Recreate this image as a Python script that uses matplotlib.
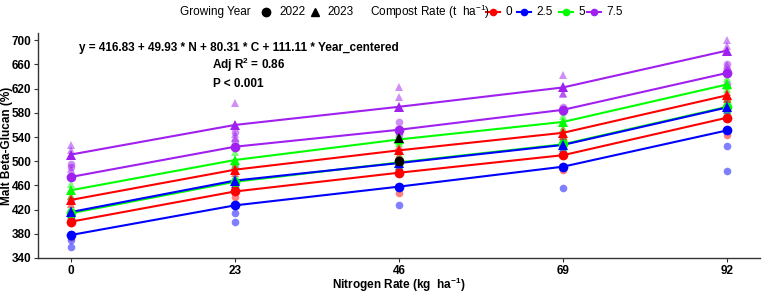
import numpy as np
import matplotlib
matplotlib.use('Agg')
import matplotlib.pyplot as plt

plt.rcParams['font.family'] = ['Liberation Sans', 'DejaVu Sans']
plt.rcParams['mathtext.fontset'] = 'custom'
plt.rcParams['mathtext.rm'] = 'Liberation Sans'
plt.rcParams['mathtext.bf'] = 'Liberation Sans:bold'

# datos
nitrogen = [0, 23, 46, 69, 92]
compost = ['0', '2.5', '5', '7.5']
colores = {'0': '#FF0000', '2.5': '#0000FF', '5': '#00FF00', '7.5': '#A020F0'}
years = ['2022', '2023']

# medias por (anio, compost)
medias_2022 = {'0': [400, 450, 481, 510, 572],
               '2.5': [378, 427, 458, 491, 551],
               '5': [414, 466, 498, 528, 590],
               '7.5': [474, 524, 552, 585, 646]}
medias_2023 = {'0': [436, 486, 518, 547, 609],
               '2.5': [416, 468, 497, 527, 589],
               '5': [452, 502, 536, 565, 627],
               '7.5': [511, 560, 590, 622, 683]}

# repeticiones (puntos claros)
rep_2022 = {'0': [[404, 398, 375], [458, 450, 441], [485, 480, 447], [535, 510, 485], [601, 572, 543]],
            '2.5': [[405, 370, 359], [456, 414, 400], [480, 458, 428], [511, 491, 456], [573, 525, 484]],
            '5': [[420, 412, 410], [470, 465, 463], [505, 497, 492], [535, 528, 521], [598, 590, 582]],
            '7.5': [[496, 490, 436], [549, 533, 490], [565, 548, 543], [590, 582, 583], [661, 650, 627]]}
rep_2023 = {'0': [[442, 436, 430], [492, 486, 480], [525, 518, 511], [553, 547, 541], [615, 609, 603]],
            '2.5': [[420, 416, 412], [473, 468, 463], [502, 497, 492], [532, 527, 522], [594, 589, 584]],
            '5': [[463, 450, 443], [515, 498, 493], [545, 533, 530], [575, 565, 555], [637, 625, 619]],
            '7.5': [[527, 519, 487], [596, 545, 539], [623, 606, 541], [642, 613, 611], [700, 690, 659]]}

# medias por anio en N = 46
media_anio_46 = [500, 538]

yticks = [340, 380, 420, 460, 500, 540, 580, 620, 660, 700]

fig = plt.figure(figsize=(7.62, 2.94), dpi=100)
ax = fig.add_axes([38/762, 36/294, 722/762, 225/294])

marcas = {'2022': 'o', '2023': '^'}
medias = {'2022': medias_2022, '2023': medias_2023}
reps = {'2022': rep_2022, '2023': rep_2023}

# puntos individuales
for yr in years:
    for c in compost:
        for i, n in enumerate(nitrogen):
            vals = reps[yr][c][i]
            ax.plot([n]*len(vals), vals, linestyle='none', marker=marcas[yr],
                    color=colores[c], alpha=0.5, markersize=5.5, markeredgewidth=0, zorder=2)

# lineas y medias
orden = ['5', '0', '2.5', '7.5']
for yr in years:
    for c in orden:
        ax.plot(nitrogen, medias[yr][c], color=colores[c], linewidth=1.5, zorder=3)
        ax.plot(nitrogen, medias[yr][c], linestyle='none', marker=marcas[yr],
                color=colores[c], markersize=7, markeredgewidth=0, zorder=4)

ax.plot([46], [media_anio_46[0]], marker='o', color='black', markersize=7, markeredgewidth=0, zorder=5)
ax.plot([46], [media_anio_46[1]], marker='^', color='black', markersize=7, markeredgewidth=0, zorder=5)

ax.set_xlim(-4.6, 96.6)
ax.set_ylim(340, 712)
ax.set_xticks(nitrogen)
ax.set_xticklabels([str(n) for n in nitrogen])
ax.set_yticks(yticks)
ax.tick_params(labelsize=8.5, length=3, width=0.8, color='#333333', pad=2)
for lab in ax.get_xticklabels() + ax.get_yticklabels():
    lab.set_fontweight('bold')
for s in ['top', 'right']:
    ax.spines[s].set_visible(False)
for s in ['left', 'bottom']:
    ax.spines[s].set_color('#333333')
    ax.spines[s].set_linewidth(1.0)

ax.set_xlabel(r'Nitrogen Rate (kg  ha$^{\mathbf{-1}}$)', fontsize=8.5, fontweight='bold')
ax.set_ylabel('Malt Beta-Glucan (%)', fontsize=8.5, fontweight='bold')
ax.xaxis.set_label_coords(0.5, -0.078)
ax.yaxis.set_label_coords(-0.035, 0.5)

ax.text(23.5, 687, 'y = 416.83 + 49.93 * N + 80.31 * C + 111.11 * Year_centered',
        ha='center', va='center', fontsize=8.5, fontweight='bold')
ax.text(25, 660, r'Adj R$^{\mathbf{2}}$ = 0.86', ha='center', va='center', fontsize=8.5, fontweight='bold')
ax.text(23.5, 627, 'P < 0.001', ha='center', va='center', fontsize=8.5, fontweight='bold')

# leyenda arriba
lax = fig.add_axes([0, 0, 1, 1])
lax.set_xlim(0, 762)
lax.set_ylim(294, 0)
lax.axis('off')
yl = 12
lax.text(180, yl, 'Growing Year', ha='left', va='center', fontsize=8.5)
lax.plot([266], [yl], marker='o', color='black', markersize=6)
lax.text(279, yl, '2022', ha='left', va='center', fontsize=8.5)
lax.plot([315], [yl], marker='^', color='black', markersize=6)
lax.text(327, yl, '2023', ha='left', va='center', fontsize=8.5)
lax.text(370, yl, r'Compost Rate (t  ha$^{-1}$)', ha='left', va='center', fontsize=8.5)
pos_c = [493, 524, 566, 594]
for c, xp in zip(compost, pos_c):
    lax.plot([xp-7, xp+7], [yl, yl], color=colores[c], linewidth=1.5)
    lax.plot([xp], [yl], marker='o', color=colores[c], markersize=5.5, markeredgewidth=0)
    lax.text(xp + 12, yl, c, ha='left', va='center', fontsize=8.5)

fig.savefig('out.png', dpi=100)
